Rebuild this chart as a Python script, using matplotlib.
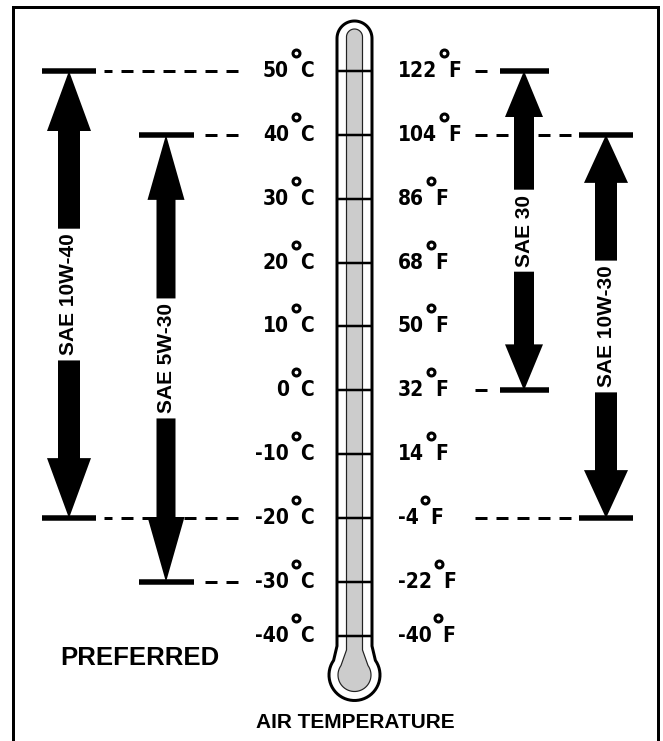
import matplotlib
matplotlib.use('Agg')
import numpy as np
import matplotlib.pyplot as plt
from matplotlib import font_manager
from matplotlib.patches import Polygon
from matplotlib.transforms import offset_copy

celsius = [50, 40, 30, 20, 10, 0, -10, -20, -30, -40]
c_labels = ['50', '40', '30', '20', '10', '0', '-10', '-20', '-30', '-40']
f_labels = ['122', '104', '86', '68', '50', '32', '14', '-4', '-22', '-40']

grades = ['SAE 10W-40', 'SAE 5W-30', 'SAE 30', 'SAE 10W-30']
grade_hi = [50, 40, 50, 40]
grade_lo = [-20, -30, 0, -20]

# layout, all in pixels
W, H = 663, 741
PX = 0.72  # points per pixel at dpi 100
arrow_x = [69, 166, 524, 606]
arrow_side = ['left', 'left', 'right', 'right']
shaft_half = [11, 9.5, 10, 11]
head_half = [22, 18.5, 19, 22]
head_len = [60, 65, 46, 48]
cap_half = [27, 27.5, 24.5, 27]

plt.rcParams['lines.scale_dashes'] = False
names = {f.name for f in font_manager.fontManager.ttflist}
narrow = 'Liberation Sans Narrow' if 'Liberation Sans Narrow' in names else 'DejaVu Sans'
sans = 'Liberation Sans' if 'Liberation Sans' in names else 'DejaVu Sans'
num_kw = dict(fontsize=15, fontweight='bold', family=narrow, fontstretch='condensed')

# 10 degC per step down to -30, the last step is squeezed like in the original
knots = [-200, -30, 200]
squeezed = [-30 - 170 * 54 / 64, -30, 200]


def fwd(t):
    return np.interp(t, knots, squeezed)


def inv(t):
    return np.interp(t, squeezed, knots)


ppu = (582 - 71) / 80  # pixels per degC
y_top = 50 + 71 / ppu
y_bot = float(inv(50 - (H - 71) / ppu))

fig = plt.figure(figsize=(W / 100, H / 100), dpi=100)
deco = fig.add_axes([0, 0, 1, 1])
deco.set_xlim(0, W)
deco.set_ylim(H, 0)
deco.axis('off')

ax = fig.add_axes([0, 0, 1, 1])
ax.set_yscale('function', functions=(fwd, inv))
ax.set_xlim(0, W)
ax.set_ylim(y_bot, y_top)
ax.axis('off')

# frame
deco.plot([12.5, 12.5, 658, 658], [H + 5, 6.5, 6.5, H + 5], lw=3 * PX, color='black',
          solid_joinstyle='miter')


def arc(cx, cy, r, a0, a1, n=40):
    a = np.radians(np.linspace(a0, a1, n))
    return np.column_stack([cx + r * np.cos(a), cy + r * np.sin(a)])


def thermo_shape(half, top, r, neck, cx=354.5, cy=675):
    pts = [arc(cx, top + half, half, 180, 360),
           [[cx + half, neck]],
           arc(cx, cy, r, -35, 215),
           [[cx - half, neck]]]
    return np.vstack(pts)


deco.add_patch(Polygon(thermo_shape(17.5, 21, 25.5, 646), closed=True,
                       fc='white', ec='black', lw=3 * PX))
deco.add_patch(Polygon(thermo_shape(8, 29, 16.5, 650), closed=True,
                       fc='#cccccc', ec='#222222', lw=1.2 * PX))

deco.text(60, 665, 'PREFERRED', fontsize=18.5, fontweight='bold', family=sans,
          ha='left', va='baseline')
deco.text(355, 728, 'AIR TEMPERATURE', fontsize=15, fontweight='bold', family=sans,
          ha='center', va='baseline')

# thermometer ticks
ax.hlines(celsius, 337.5, 371.5, lw=2.5 * PX, color='black', zorder=3)

base = offset_copy(ax.transData, fig=fig, y=-6, units='dots')
ring_tr = offset_copy(ax.transData, fig=fig, y=18, units='dots')
ring_kw = dict(marker='o', ms=5, mfc='white', mec='black', mew=2.2, ls='none',
               transform=ring_tr, zorder=5)

f_texts = []
for t, c, f in zip(celsius, c_labels, f_labels):
    ax.text(289, t, c, ha='right', va='baseline', transform=base, **num_kw)
    ax.plot([296], [t], **ring_kw)
    ax.text(300, t, 'C', ha='left', va='baseline', transform=base, **num_kw)
    f_texts.append(ax.text(398, t, f, ha='left', va='baseline', transform=base, **num_kw))

g_texts = []
for i, g in enumerate(grades):
    mid = (grade_hi[i] + grade_lo[i]) / 2
    g_texts.append(ax.text(arrow_x[i], mid, g, rotation=90, ha='center', va='center',
                           fontsize=15, fontweight='bold', family=sans, zorder=4))

fig.canvas.draw()
r = fig.canvas.get_renderer()
to_data = ax.transData.inverted()

for ft, t in zip(f_texts, celsius):
    x1 = ft.get_window_extent(r).x1
    ax.plot([x1 + 6.5], [t], **ring_kw)
    ax.text(x1 + 11, t, 'F', ha='left', va='baseline', transform=base, **num_kw)

for i in range(len(grades)):
    x = arrow_x[i]
    hi, lo = grade_hi[i], grade_lo[i]
    bb = g_texts[i].get_window_extent(r)
    top_end = to_data.transform((x, bb.y1 + 5))[1]
    bot_end = to_data.transform((x, bb.y0 - 5))[1]
    hl = head_len[i] / ppu
    sh, hh = shaft_half[i], head_half[i]
    up = [(x, hi), (x + hh, hi - hl), (x + sh, hi - hl), (x + sh, top_end),
          (x - sh, top_end), (x - sh, hi - hl), (x - hh, hi - hl)]
    down = [(x, lo), (x + hh, lo + hl), (x + sh, lo + hl), (x + sh, bot_end),
            (x - sh, bot_end), (x - sh, lo + hl), (x - hh, lo + hl)]
    ax.add_patch(Polygon(up, closed=True, fc='black', ec='none', zorder=2))
    ax.add_patch(Polygon(down, closed=True, fc='black', ec='none', zorder=2))
    for t in (hi, lo):
        ax.plot([x - cap_half[i], x + cap_half[i]], [t, t], lw=5.5 * PX, color='black',
                solid_capstyle='butt', zorder=4)
        if arrow_side[i] == 'left':
            xs = [238, x + cap_half[i] + 8]
        else:
            xs = [475, x - cap_half[i] - 8]
        ax.plot(xs, [t, t], lw=3 * PX, color='black', dashes=(12 * PX, 9 * PX),
                dash_capstyle='butt', zorder=1)

fig.savefig('out.png', dpi=100)
